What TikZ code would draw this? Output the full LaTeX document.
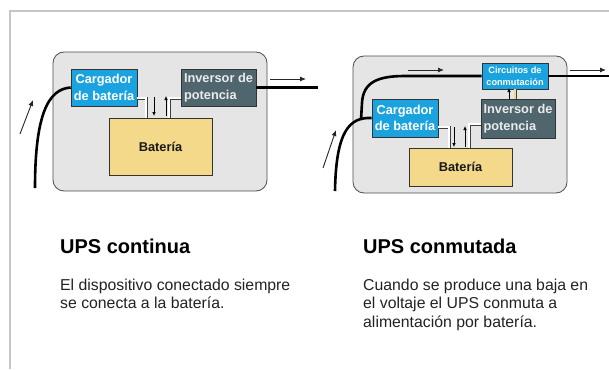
\documentclass[tikz,border=0pt]{standalone}
\usepackage{fontspec}
\setmainfont{Liberation Sans}
\usetikzlibrary{arrows.meta}
\definecolor{panelgray}{HTML}{E5E5E5}
\definecolor{chargecyan}{HTML}{1BA3E0}
\definecolor{invslate}{HTML}{50666F}
\definecolor{batyellow}{HTML}{F4D98A}
\definecolor{framegray}{HTML}{C6C6C6}
\definecolor{bodygray}{HTML}{222222}

\begin{document}
\begin{tikzpicture}[x=1pt,y=-1pt,
    panel/.style={draw=black!70,fill=panelgray,rounded corners=11pt,line width=.8pt},
    unit/.style={draw=black!80,line width=.7pt,inner sep=0pt,
                 font=\bfseries\fontsize{12.8}{16.5}\selectfont},
    charger/.style={unit,fill=chargecyan,text=white,align=center},
    inverter/.style={unit,fill=invslate,text=black!8,align=left},
    battery/.style={unit,fill=batyellow,text=black!90,minimum width=103pt},
    wire/.style={draw=black!75,line width=.6pt,double=white,double distance=1.8pt},
    cable/.style={line width=2.6pt},
    flow/.style={-{Latex[length=6pt,width=5pt]},line width=.9pt,black!85},
    tick/.style={-{Latex[length=4pt,width=3.6pt]},line width=.7pt},
    title/.style={anchor=base west,inner sep=0pt,font=\bfseries\fontsize{20}{24}\selectfont},
    note/.style={anchor=base west,inner sep=0pt,align=left,text=bodygray,
                 font=\fontsize{15.8}{18.5}\selectfont}]
  \useasboundingbox (0,0) rectangle (609,369);
  \draw[framegray,line width=1.2pt] (10,369) |- (609,11);
  %
  % UPS continua
  \begin{scope}
  \draw[panel] (53,52) rectangle (267,191);
  \node[charger,minimum width=66pt,minimum height=37pt] (cargL) at (104,87.5) {Cargador\\de batería};
  \node[inverter,minimum width=75pt,minimum height=37pt] (invL) at (218.5,87.5) {Inversor de\\potencia};
  \node[battery,minimum height=57pt] (batL) at (160.5,146.5) {Batería};
  \draw[wire] ([yshift=-10.5pt]cargL.east) -| ([xshift=-14.5pt]batL.north);
  \draw[wire] ([yshift=-10.5pt]invL.west) -| ([xshift=8.5pt]batL.north);
  \draw[tick] (154,97) -- (154,116);
  \draw[tick] (166,116) -- (166,96);
  \coordinate (inL) at (35,188);
  \coordinate (outL) at (318,87.5);
  \draw[cable] (inL) .. controls (35,115) and (48,89) .. (cargL.west);
  \draw[cable] (invL.east) -- (outL);
  \draw[flow] (20,134) -- (33,100);
  \draw[flow] (270,79) -- (306,79);
  \end{scope}
  %
  % UPS conmutada
  \begin{scope}
  \draw[panel] (353,56) rectangle (567,193);
  \node[charger,minimum width=66pt,minimum height=38pt] (cargR) at (405,118) {Cargador\\de batería};
  \node[inverter,minimum width=74pt,minimum height=39pt] (invR) at (518,118.5) {Inversor de\\potencia};
  \node[battery,minimum height=38pt] (batR) at (460.5,167) {Batería};
  \node[charger,minimum width=66pt,minimum height=26pt,
        font=\bfseries\fontsize{9.2}{12}\selectfont] (circR) at (515,76) {Circuitos de\\conmutación};
  \draw[wire] ([yshift=-9pt]cargR.east) -| ([xshift=-11.5pt]batR.north);
  \draw[wire] ([yshift=-5.5pt]invR.west) -| ([xshift=8.5pt]batR.north);
  \draw[wire,double=batyellow] (circR.south) -- (circR.south |- invR.north);
  \draw[tick] (454,127) -- (454,147);
  \draw[tick] (465,147) -- (465,126);
  \draw[tick] (509,99) -- (509,88);
  \coordinate (inR) at (335,191);
  \coordinate (tapR) at (361,120);
  \coordinate (outR) at (609,76);
  \draw[cable] (inR) .. controls (336,130) and (350,117) .. (cargR.west);
  \draw[cable] (tapR) -- (362,103) .. controls (363,82) and (378,76) .. (405,76) -- (circR.west);
  \draw[cable] (circR.east) -- (outR);
  \draw[flow] (323,168) -- (336,130);
  \draw[flow] (408,70) -- (444,70);
  \draw[flow] (570,70) -- (606,70);
  \end{scope}
  %
  % captions (base = last line)
  \node[title] (headL) at (60,253) {UPS continua};
  \node[note] (textL) at (60,308.5) {El dispositivo conectado siempre\\se conecta a la batería.};
  \node[title] (headR) at (363,253) {UPS conmutada};
  \node[note] (textR) at (363,327) {Cuando se produce una baja en\\el voltaje el UPS conmuta a\\alimentación por batería.};
\end{tikzpicture}
\end{document}
